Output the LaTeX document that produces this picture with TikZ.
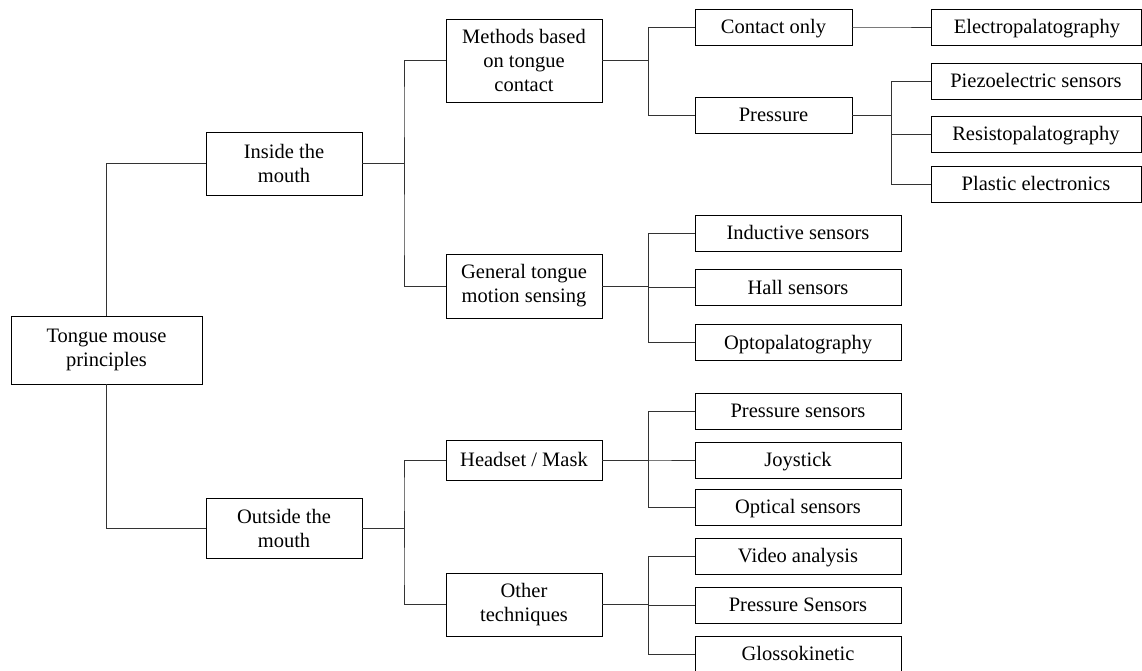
\documentclass[tikz,border=0pt]{standalone}
\usepackage{fontspec}
\setmainfont{Liberation Serif}
\usetikzlibrary{positioning,calc}

\begin{document}
\begin{tikzpicture}[
  x=1pt,y=-1pt,
  box/.style ={rectangle,draw=black,line width=0.9pt,inner sep=0pt,align=center,
               font=\fontsize{20.5}{24}\selectfont},
  one/.style ={text height=16.9pt,text depth=4.3pt},
  top/.style ={box,minimum width=191pt,minimum height=68pt},
  mid/.style ={box,minimum width=156pt},
  sub/.style ={box,one,minimum width=157pt,minimum height=36pt},
  leaf/.style={box,one,minimum width=206pt,minimum height=36pt},
  tip/.style ={box,one,minimum width=210pt,minimum height=36pt},
  link/.style={line width=0.9pt,color=black!80}
]
\useasboundingbox (0,0) rectangle (1142,671);
% root and first level
\node[top] (root) at (106.5,350) {Tongue mouse\\principles};
\node[mid,minimum height=63pt] (inside)  at (284,163.5) {Inside the\\mouth};
\node[mid,minimum height=60pt] (outside) at (284,528)   {Outside the\\mouth};
% second level
\node[mid,minimum height=83pt] (methods) at (524,60.5) {Methods based\\on tongue\\contact};
\node[mid,minimum height=64pt] (general) at (524,286)  {General tongue\\motion sensing};
\node[mid,one,minimum height=40pt] (headset) at (524,460) {Headset / Mask};
\node[mid,minimum height=63pt] (other)   at (524,604.5){Other\\techniques};
% contact methods
\node[sub] (contact)  at (773.5,27)    {Contact only};
\node[sub] (pressure) at (773.5,115.5) {Pressure};
\node[tip,right=79pt of contact] (epg) {Electropalatography};
\node[tip] (piezo)   at (1036,81)  {Piezoelectric sensors};
\node[tip] (resisto) at (1036,134) {Resistopalatography};
\node[tip] (plastic) at (1036,184) {Plastic electronics};
% motion sensing
\node[leaf] (ind) at (798,233) {Inductive sensors};
\node[leaf,below=18pt of ind]  (hall) {Hall sensors};
\node[leaf,below=18pt of hall] (opto) {Optopalatography};
% outside the mouth
\node[leaf] (psens)   at (798,411)   {Pressure sensors};
\node[leaf] (joy)     at (798,460)   {Joystick};
\node[leaf] (optical) at (798,507.5) {Optical sensors};
\node[leaf] (video)   at (798,556.5) {Video analysis};
\node[leaf] (psens2)  at (798,605)   {Pressure Sensors};
\node[leaf] (glosso)  at (798,654)   {Glossokinetic};
% connectors
\draw[link] (root.north) |- (inside.west);
\draw[link] (root.south) |- (outside.west);
\foreach \a/\b in {inside/methods,inside/general,outside/headset,outside/other,
                   methods/contact,methods/pressure,contact/epg,
                   pressure/piezo,pressure/resisto,pressure/plastic,
                   general/ind,general/hall,general/opto,
                   headset/psens,headset/joy,headset/optical,
                   other/video,other/psens2,other/glosso}
  \draw[link] (\a.east) -| ($(\a.east)!0.5!(\b.west)$) |- (\b.west);
\end{tikzpicture}
\end{document}
